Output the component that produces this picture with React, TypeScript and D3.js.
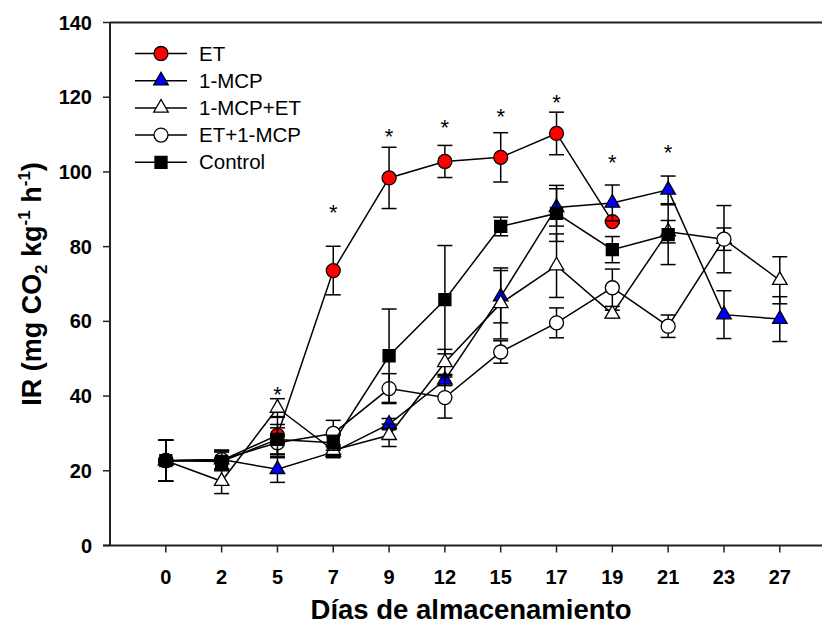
import React, { useRef, useEffect } from "react";
import * as d3 from "d3";

// storage days (categorical, evenly spaced on the axis)
const days = ["0", "2", "5", "7", "9", "12", "15", "17", "19", "21", "23", "27"];

// IR means and standard errors, one pair per treatment
const etMean = [22.7, 22.8, 29.5, 73.6, 98.4, 102.8, 103.9, 110.3, 86.7];
const etErr = [5.5, 2.5, 5, 6.5, 8.2, 4.3, 6.6, 5.7, 0.4];

const mcpMean = [22.7, 23, 20.4, 25, 32.5, 44.3, 66.6, 90.5, 91.7, 95.2, 61.8, 60.6];
const mcpErr = [5.5, 2.5, 3.5, 1.5, 1.5, 1.5, 7, 5, 4.8, 3.7, 6.4, 6];

const mcpEtMean = [22.7, 17.2, 36.8, 25.5, 29.5, 49, 64.8, 74.9, 62, 84, 82, 71];
const mcpEtErr = [5.5, 3.3, 2.5, 1.5, 3, 3.5, 9.5, 8.5, 1, 3, 3, 6.3];

const etMcpMean = [22.7, 23, 27.5, 30, 42, 39.6, 51.8, 59.6, 69, 58.7, 82];
const etMcpErr = [5.5, 2.5, 4, 3.5, 4, 5.5, 3, 4, 5, 3, 9];

const controlMean = [22.7, 22.5, 28.4, 27.5, 50.8, 65.8, 85.4, 88.9, 79.2, 83.2];
const controlErr = [5.5, 2.5, 4, 2, 12.5, 14.5, 2.5, 7.5, 3.5, 8];

// common initial value at day 0
const initialDay = ["0"];
const initialValue = [22.7];

// significance asterisks
const sigDays = ["5", "7", "9", "12", "15", "17", "19", "21"];
const sigLevel = [41.6, 90.3, 110.8, 113.2, 116, 119.8, 103.7, 106.4];

const yTicks = [0, 20, 40, 60, 80, 100, 120, 140];

const series = [
  { name: "ET", mean: etMean, err: etErr, shape: "circle", fill: "#ff0000" },
  { name: "1-MCP", mean: mcpMean, err: mcpErr, shape: "triangle", fill: "#0000ff" },
  { name: "1-MCP+ET", mean: mcpEtMean, err: mcpEtErr, shape: "triangle", fill: "#ffffff" },
  { name: "ET+1-MCP", mean: etMcpMean, err: etMcpErr, shape: "circle", fill: "#ffffff" },
  { name: "Control", mean: controlMean, err: controlErr, shape: "square", fill: "#000000" },
];

const FONT = "Arial, 'Liberation Sans', sans-serif";

const symbolFor = (shape: string) => {
  if (shape === "triangle") return d3.symbol().type(d3.symbolTriangle).size(92)();
  if (shape === "square") return d3.symbol().type(d3.symbolSquare).size(144)();
  return d3.symbol().type(d3.symbolCircle).size(154)();
};

const App = () => {
  const svgRef = useRef<SVGSVGElement>(null);
  const width = 822;
  const height = 625;

  useEffect(() => {
    const svg = d3.select(svgRef.current);
    svg.selectAll("*").remove();

    const left = 110;
    const right = 835.6;
    const top = 22.5;
    const bottom = 545.5;

    const x = d3.scalePoint<string>().domain(days).range([left, right]).padding(1);
    const y = d3.scaleLinear().domain([0, 140]).range([bottom, top]);

    // frame (right side falls outside the picture)
    svg.append("line").attr("x1", left).attr("x2", right).attr("y1", top).attr("y2", top)
      .attr("stroke", "#222").attr("stroke-width", 2);
    svg.append("line").attr("x1", left).attr("x2", left).attr("y1", top).attr("y2", bottom)
      .attr("stroke", "#222").attr("stroke-width", 2);
    svg.append("line").attr("x1", left - 7).attr("x2", right).attr("y1", bottom).attr("y2", bottom)
      .attr("stroke", "#222").attr("stroke-width", 2);

    // y ticks
    yTicks.forEach((t) => {
      svg.append("line").attr("x1", left - 7).attr("x2", left).attr("y1", y(t)).attr("y2", y(t))
        .attr("stroke", "#222").attr("stroke-width", 1.5);
      svg.append("text").attr("x", 92).attr("y", y(t) + 7)
        .attr("text-anchor", "end").style("font-family", FONT).style("font-size", "20px")
        .style("font-weight", "bold").text(t);
    });

    // x ticks
    days.forEach((d) => {
      svg.append("line").attr("x1", x(d)).attr("x2", x(d)).attr("y1", bottom).attr("y2", bottom + 7)
        .attr("stroke", "#222").attr("stroke-width", 1.5);
      svg.append("text").attr("x", x(d)).attr("y", 584)
        .attr("text-anchor", "middle").style("font-family", FONT).style("font-size", "20px")
        .style("font-weight", "bold").text(d);
    });

    // axis titles
    svg.append("text").attr("x", 471).attr("y", 619)
      .attr("text-anchor", "middle").style("font-family", FONT).style("font-size", "27.5px")
      .style("font-weight", "bold").text("Días de almacenamiento");

    const yTitle = svg.append("text")
      .attr("transform", "translate(41,284) rotate(-90)")
      .attr("text-anchor", "middle").style("font-family", FONT).style("font-size", "27px")
      .style("font-weight", "bold");
    yTitle.append("tspan").text("IR (mg CO");
    yTitle.append("tspan").attr("dy", 6).style("font-size", "17px").text("2");
    yTitle.append("tspan").attr("dy", -6).text(" kg");
    yTitle.append("tspan").attr("dy", -11).style("font-size", "17px").text("-1");
    yTitle.append("tspan").attr("dy", 11).text(" h");
    yTitle.append("tspan").attr("dy", -11).style("font-size", "17px").text("-1");
    yTitle.append("tspan").attr("dy", 11).text(")");

    const line = d3.line<number>()
      .x((_, i) => x(days[i]) as number)
      .y((v) => y(v));

    series.forEach((s) => {
      const g = svg.append("g");
      g.append("path").datum(s.mean).attr("d", line)
        .attr("fill", "none").attr("stroke", "#000").attr("stroke-width", 1.5);

      s.mean.forEach((m, i) => {
        const cx = x(days[i]) as number;
        const e = s.err[i];
        g.append("line").attr("x1", cx).attr("x2", cx).attr("y1", y(m - e)).attr("y2", y(m + e))
          .attr("stroke", "#000").attr("stroke-width", 1.5);
        [m - e, m + e].forEach((v) => {
          g.append("line").attr("x1", cx - 7.5).attr("x2", cx + 7.5).attr("y1", y(v)).attr("y2", y(v))
            .attr("stroke", "#000").attr("stroke-width", 1.5);
        });
      });

      s.mean.forEach((m, i) => {
        g.append("path").attr("d", symbolFor(s.shape))
          .attr("transform", `translate(${x(days[i])},${y(m)})`)
          .attr("fill", s.fill).attr("stroke", "#000").attr("stroke-width", 1.3);
      });
    });

    // initial common point
    initialDay.forEach((d, i) => {
      svg.append("path").attr("d", symbolFor("circle"))
        .attr("transform", `translate(${x(d)},${y(initialValue[i])})`)
        .attr("fill", "#000").attr("stroke", "#000").attr("stroke-width", 1.3);
    });

    // significance asterisks
    sigDays.forEach((d, i) => {
      svg.append("text").attr("x", x(d)).attr("y", y(sigLevel[i]) + 12)
        .attr("text-anchor", "middle").style("font-family", FONT).style("font-size", "22px")
        .text("*");
    });

    // legend
    const legend = svg.append("g");
    series.forEach((s, i) => {
      const ly = 53.5 + i * 27.2;
      legend.append("line").attr("x1", 135).attr("x2", 187).attr("y1", ly).attr("y2", ly)
        .attr("stroke", "#000").attr("stroke-width", 1.5);
      legend.append("path").attr("d", symbolFor(s.shape))
        .attr("transform", `translate(161,${ly})`)
        .attr("fill", s.fill).attr("stroke", "#000").attr("stroke-width", 1.3);
      legend.append("text").attr("x", 199).attr("y", ly + 7)
        .style("font-family", FONT).style("font-size", "20.5px").text(s.name);
    });
  }, []);

  return (
    <svg
      ref={svgRef}
      width={width}
      height={height}
      style={{ position: "absolute", left: 0, top: 0, background: "#fff" }}
    />
  );
};

export default App;
